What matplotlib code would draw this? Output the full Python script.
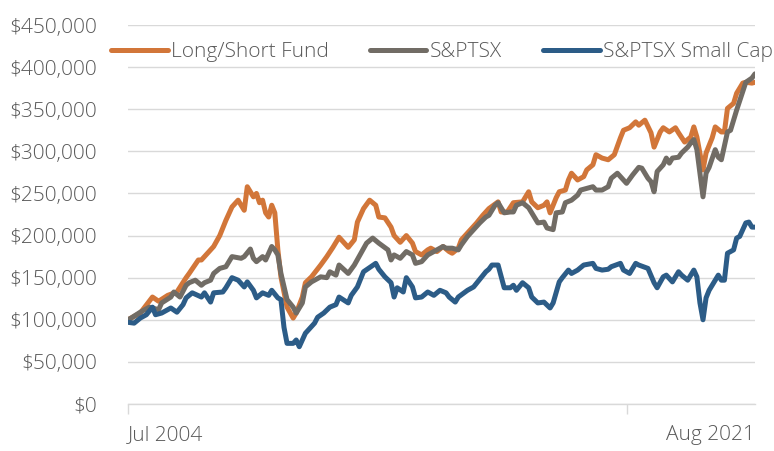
import numpy as np
import matplotlib.pyplot as plt
from matplotlib.ticker import FuncFormatter

plt.rc('font', family=['Open Sans', 'DejaVu Sans'], weight='light')

# months since Jul 2004 and growth of $100,000 (in $000s)
fund_m = [0, 4, 8, 10, 13, 16, 19, 20, 23, 24, 26, 28, 30, 32, 34, 36, 38, 39, 41, 42, 43, 44, 45, 46, 47, 48,
          49, 50, 52, 54, 55, 57, 58, 60, 63, 65, 67, 69, 72, 74, 75, 77, 79, 81, 82, 84, 86, 87, 89, 91, 93,
          94, 96, 98, 99, 101, 103, 105, 106, 108, 109, 112, 114, 116, 118, 121, 122, 124, 126, 129, 131, 132,
          134, 136, 137, 138, 140, 141, 143, 144, 145, 147, 149, 150, 152, 153, 155, 157, 159, 161, 162, 164,
          166, 167, 169, 171, 172, 174, 175, 177, 179, 180, 182, 184, 185, 186, 188, 189, 191, 192, 194, 195,
          196, 198, 199, 201, 202, 204, 205]
fund_v = [100, 108, 127, 122, 129, 133, 150, 155, 171, 171, 179, 187, 200, 218, 234, 242, 230, 258, 246, 250, 239,
          242, 227, 222, 236, 227, 183, 151, 115, 102, 108, 127, 144, 151, 165, 175, 186, 198, 186, 195, 216,
          232, 242, 236, 222, 221, 210, 200, 192, 200, 191, 181, 177, 183, 185, 181, 187, 181, 179, 185, 195,
          207, 215, 224, 232, 240, 228, 228, 239, 240, 252, 240, 233, 236, 240, 227, 245, 252, 254, 266, 274,
          266, 270, 278, 284, 296, 292, 290, 296, 316, 325, 328, 335, 331, 337, 322, 305, 323, 328, 323, 328,
          322, 311, 317, 329, 317, 278, 298, 316, 329, 323, 323, 351, 357, 369, 381, 382, 381, 382]

tsx_m = [0, 1, 4, 7, 10, 11, 14, 15, 17, 19, 20, 22, 24, 25, 27, 28, 30, 32, 34, 37, 38, 40, 41, 42, 44, 45, 47,
         48, 49, 50, 52, 54, 55, 57, 58, 60, 61, 63, 65, 66, 68, 69, 72, 74, 76, 78, 80, 82, 85, 86, 87, 89,
         91, 93, 94, 96, 98, 100, 103, 104, 106, 108, 109, 111, 113, 115, 117, 118, 120, 121, 123, 125, 126,
         127, 129, 131, 132, 134, 136, 137, 139, 140, 142, 143, 145, 147, 148, 150, 152, 153, 155, 157, 158,
         160, 162, 163, 165, 167, 168, 170, 171, 172, 173, 175, 176, 177, 178, 180, 181, 183, 184, 185, 186,
         188, 189, 190, 192, 193, 194, 196, 197, 199, 201, 202, 204, 205]
tsx_v = [100, 102, 109, 115, 112, 120, 127, 133, 127, 141, 144, 147, 141, 144, 147, 155, 161, 163, 175, 173, 175,
         184, 173, 169, 175, 171, 187, 183, 177, 155, 124, 115, 108, 120, 139, 145, 147, 151, 150, 157, 153,
         165, 155, 165, 178, 191, 197, 191, 183, 171, 177, 173, 181, 177, 167, 169, 177, 181, 187, 185, 185,
         183, 189, 199, 207, 215, 222, 224, 236, 239, 227, 228, 228, 236, 239, 233, 227, 215, 216, 209, 207,
         227, 228, 239, 242, 248, 254, 256, 258, 254, 254, 258, 268, 274, 266, 262, 272, 281, 280, 268, 264,
         252, 276, 284, 292, 286, 292, 293, 298, 305, 310, 314, 302, 246, 274, 281, 302, 293, 290, 323, 325,
         349, 371, 382, 387, 392]

small_m = [0, 2, 4, 6, 8, 9, 11, 13, 14, 16, 18, 19, 21, 24, 25, 27, 28, 31, 32, 34, 36, 38, 39, 41, 42, 44, 46,
           47, 49, 50, 51, 52, 54, 55, 56, 58, 59, 61, 62, 64, 66, 68, 69, 72, 73, 75, 76, 77, 79, 81, 82, 84,
           86, 87, 88, 90, 91, 93, 94, 96, 98, 100, 102, 104, 105, 107, 108, 111, 113, 115, 117, 118, 119, 121,
           123, 125, 126, 127, 129, 131, 132, 134, 136, 138, 139, 141, 142, 144, 145, 147, 149, 152, 153, 155,
           157, 158, 161, 162, 164, 166, 167, 170, 172, 173, 175, 176, 178, 180, 181, 183, 185, 186, 187, 188,
           189, 190, 192, 193, 194, 195, 196, 198, 199, 200, 202, 203, 204, 205]
small_v = [97, 96, 102, 106, 115, 106, 108, 112, 114, 109, 118, 126, 132, 127, 132, 121, 132, 133, 138, 150, 147,
           139, 145, 135, 126, 132, 129, 135, 126, 124, 91, 72, 72, 76, 68, 84, 88, 96, 103, 108, 115, 118, 127,
           120, 129, 139, 148, 157, 162, 167, 160, 151, 144, 127, 138, 133, 150, 139, 126, 127, 133, 129, 135,
           132, 127, 121, 127, 135, 139, 148, 157, 160, 165, 165, 138, 138, 141, 135, 144, 138, 127, 120, 121,
           114, 120, 145, 150, 159, 155, 159, 165, 167, 161, 159, 160, 163, 167, 159, 155, 167, 165, 161, 144,
           138, 151, 153, 145, 157, 153, 147, 159, 151, 120, 100, 126, 135, 147, 153, 147, 147, 179, 183, 197,
           199, 215, 216, 210, 210]

series = ['Long/Short Fund', 'S&PTSX', 'S&PTSX Small Cap']
colors = ['#D27639', '#716C65', '#2C5C87']
txt = '#595959'
fs = 15

fig = plt.figure(figsize=(7.74, 4.51), dpi=100)
ax = fig.add_axes([128/774, 47/451, 627/774, 379/451])

for m, v, lab, c in zip([fund_m, tsx_m, small_m], [fund_v, tsx_v, small_v], series, colors):
    ax.plot(m, np.array(v)*1000, color=c, lw=3.6, label=lab, solid_joinstyle='round', solid_capstyle='round')

ax.set_xlim(0, 205)
ax.set_ylim(0, 450000)
ax.set_yticks(np.arange(0, 450001, 50000))
ax.yaxis.set_major_formatter(FuncFormatter(lambda y, p: f'${y:,.0f}'))
ax.grid(axis='y', color='#D9D9D9', lw=1)
ax.set_axisbelow(True)
for s in ['top', 'right', 'left']:
    ax.spines[s].set_visible(False)
ax.spines['bottom'].set_color('#D9D9D9')
ax.spines['bottom'].set_linewidth(1)
ax.tick_params(axis='y', length=0, pad=22, labelsize=fs, labelcolor=txt)
ax.set_xticks([0, 163])
ax.set_xticklabels([])
ax.tick_params(axis='x', length=7, color='#D9D9D9', width=1)
ax.text(0, -0.055, 'Jul 2004', transform=ax.transAxes, ha='left', va='top', fontsize=fs, color=txt)
ax.text(1, -0.055, 'Aug 2021', transform=ax.transAxes, ha='right', va='top', fontsize=fs, color=txt)

leg = fig.legend(loc='center', bbox_to_anchor=(442/774, 1-52/451), ncol=3, frameon=False,
                 fontsize=fs, handlelength=2.7, handletextpad=0.15, columnspacing=2.0,
                 labelcolor=txt)

fig.savefig('out.png', dpi=100)
